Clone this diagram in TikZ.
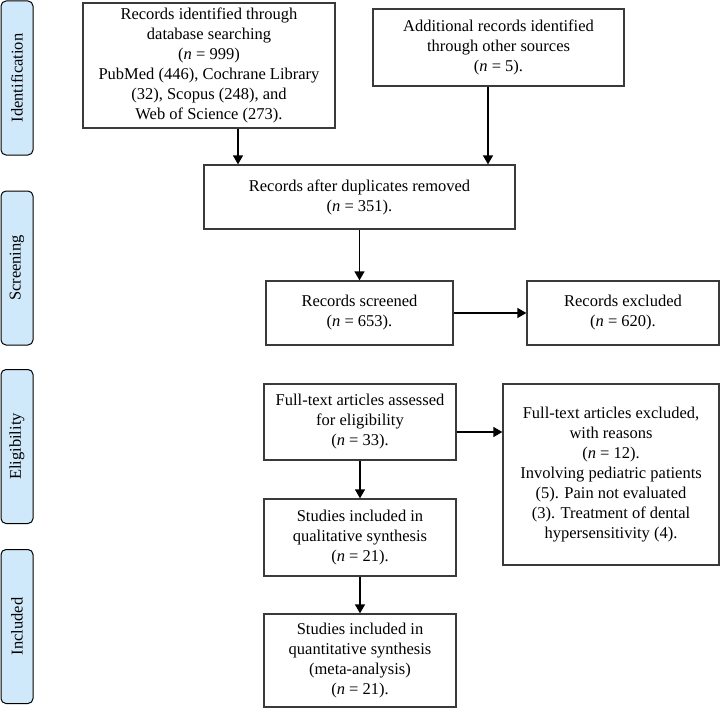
\documentclass[tikz,border=0pt]{standalone}
\usepackage{fontspec}
\setmainfont{Liberation Serif}
\usetikzlibrary{positioning, arrows.meta, calc}
\definecolor{stagefill}{HTML}{CFE9FB}
\definecolor{boxline}{HTML}{3A3A3A}

\begin{document}
\begin{tikzpicture}[x=1pt, y=-1pt,
    box/.style={draw=boxline, line width=1.3pt, align=center, inner sep=2pt,
      font=\fontsize{16.5}{20}\selectfont},
    stage/.style={draw=black, fill=stagefill, line width=1pt, rounded corners=5pt,
      minimum width=32pt, minimum height=154pt, inner sep=0pt},
    stagetext/.style={rotate=90, font=\fontsize{16.5}{18}\selectfont},
    arr/.style={line width=1.3pt, -{Triangle[length=9pt, width=10pt]}}]
    \useasboundingbox (0,0) rectangle (720,717);
    %--- STAGES ---
    \node[stage] (sid) at (17,78) {};
    \node[stagetext] at (sid) {Identification};
    \node[stage] (ssc) at (17,268) {};
    \node[stagetext] at (ssc) {Screening};
    \node[stage] (sel) at (17,446.5) {};
    \node[stagetext] at (sel) {Eligibility};
    \node[stage] (sin) at (17,626.5) {};
    \node[stagetext] at (sin) {Included};
    %--- BOXES ---
    \node[box, minimum width=252pt, minimum height=125pt] (dbase) at (209,65.5)
      {Records identified through\\database searching\\(\textit{n} = 999)\\PubMed (446), Cochrane Library\\(32), Scopus (248), and\\Web of Science (273).};
    \node[box, minimum width=251pt, minimum height=77pt] (other) at (498.5,47.5)
      {Additional records identified\\through other sources\\(\textit{n} = 5).};
    \node[box, minimum width=311pt, minimum height=64pt] (dupl) at (359.5,197)
      {Records after duplicates removed\\(\textit{n} = 351).};
    \node[box, minimum width=187pt, minimum height=64pt] (scr) at (359.5,313)
      {Records screened\\(\textit{n} = 653).};
    \node[box, minimum width=192pt, minimum height=64pt] (excl) at (623,313)
      {Records excluded\\(\textit{n} = 620).};
    \node[box, minimum width=192pt, minimum height=76pt] (full) at (360,422)
      {Full-text articles assessed\\for eligibility\\(\textit{n} = 33).};
    \node[box, minimum width=216pt, minimum height=181pt] (reas) at (611,474.5)
      {Full-text articles excluded,\\with reasons\\(\textit{n} = 12).\\Involving pediatric patients\\(5). Pain not evaluated\\(3). Treatment of dental\\hypersensitivity (4).};
    \node[box, minimum width=192pt, minimum height=77pt] (qual) at (360,537.5)
      {Studies included in\\qualitative synthesis\\(\textit{n} = 21).};
    \node[box, minimum width=192pt, minimum height=93pt] (quan) at (360,660.5)
      {Studies included in\\quantitative synthesis\\(meta-analysis)\\(\textit{n} = 21).};
    %--- ARROWS ---
    \draw[arr] ([xshift=29pt]dbase.south) -- ([xshift=29pt]dbase.south |- dupl.north);
    \draw[arr] ([xshift=-10.5pt]other.south) -- ([xshift=-10.5pt]other.south |- dupl.north);
    \draw[arr] (dupl) -- (scr);
    \draw[arr] (scr) -- (excl);
    \draw[arr] ([yshift=-10pt]full.east) -- ([yshift=-10pt]full.east -| reas.west);
    \draw[arr] (full) -- (qual);
    \draw[arr] (qual) -- (quan);
  \end{tikzpicture}
\end{document}
